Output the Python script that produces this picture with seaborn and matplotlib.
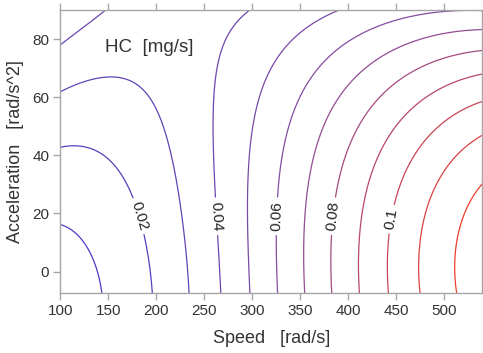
import numpy as np
import matplotlib
matplotlib.use("Agg")
import matplotlib.pyplot as plt
import seaborn as sns
from matplotlib.colors import LinearSegmentedColormap

# Points traced along each HC iso-line: level [mg/s], speed [rad/s], acceleration [rad/s^2]
contour_level = (
    [0.01] * 4
    + [0.02] * 7
    + [0.03] * 9
    + [0.04] * 14
    + [0.05] * 10
    + [0.06] * 10
    + [0.07] * 9
    + [0.08] * 8
    + [0.09] * 7
    + [0.10] * 6
    + [0.11] * 5
    + [0.12] * 4
)
contour_speed = [
    144.0, 129.9, 124.0, 100.0,
    100.0, 117.0, 157.0, 167.4, 181.0, 190.6, 196.2,
    100.0, 155.0, 195.2, 209.0, 218.4, 220.0, 225.4, 231.0, 234.0,
    267.4, 264.6, 263.0, 260.0, 259.4, 260.0, 263.5, 271.6, 291.7, 299.0,
    100.0, 104.9, 140.6, 149.0,
    297.6, 295.9, 295.9, 296.6, 300.0, 306.7, 319.0, 342.7, 379.0, 391.0,
    326.4, 325.4, 325.0, 330.6, 336.5, 348.6, 367.7, 404.0, 469.5, 505.0,
    354.9, 354.2, 355.6, 362.5, 372.3, 389.3, 415.6, 474.7, 540.0,
    383.3, 382.7, 384.0, 394.5, 409.4, 431.3, 471.9, 540.0,
    411.5, 411.1, 416.4, 427.8, 446.9, 479.9, 540.0,
    441.7, 441.7, 448.3, 463.2, 491.0, 540.0,
    475.4, 474.0, 483.3, 504.9, 540.0,
    513.5, 512.2, 525.7, 540.0,
]
contour_accel = [
    -7.5, 7.5, 8.6, 17.0,
    42.4, 43.4, 36.8, 31.6, 19.0, 7.5, -7.5,
    61.7, 66.8, 59.2, 48.9, 36.8, 31.6, 23.0, 7.5, -7.5,
    -7.5, 7.5, 19.0, 36.8, 48.9, 59.2, 69.6, 79.9, 88.2, 90.0,
    77.7, 79.9, 88.2, 90.0,
    -7.5, 7.5, 23.0, 36.8, 48.9, 59.2, 69.6, 79.9, 88.2, 90.0,
    -7.5, 7.5, 19.0, 36.8, 48.9, 59.2, 69.6, 79.9, 88.2, 89.5,
    -7.5, 7.5, 23.0, 36.8, 48.9, 59.2, 69.6, 79.9, 83.3,
    -7.5, 7.5, 19.0, 36.8, 48.9, 59.2, 69.6, 76.2,
    -7.5, 7.5, 23.0, 36.8, 48.9, 59.2, 67.8,
    -7.5, 7.5, 23.0, 36.8, 48.9, 58.6,
    -7.5, 7.5, 23.0, 36.8, 46.8,
    -7.5, 7.5, 23.0, 30.5,
]

plain_levels = [0.01, 0.03, 0.05, 0.07, 0.09, 0.11, 0.12]
labeled_levels = [0.02, 0.04, 0.06, 0.08, 0.10]
label_speed = [181, 263, 326, 386, 445]
label_accel = [19, 19, 19, 19, 18]
speed_ticks = [100, 150, 200, 250, 300, 350, 400, 450, 500]
accel_ticks = [0, 20, 40, 60, 80]
speed_range = (100, 540)
accel_range = (-7.5, 90)


def poly_basis(speed, accel, degree=4):
    s = (np.asarray(speed, float) - 320.0) / 220.0
    a = (np.asarray(accel, float) - 41.0) / 49.0
    cols = [s ** i * a ** j for i in range(degree + 1) for j in range(degree + 1 - i)]
    return np.stack(cols, axis=-1)


# Polynomial response surface HC(speed, acceleration) fitted through the traced points
coef, *_ = np.linalg.lstsq(poly_basis(contour_speed, contour_accel),
                           np.asarray(contour_level, float), rcond=None)
grid_s, grid_a = np.meshgrid(np.linspace(*speed_range, 400), np.linspace(*accel_range, 400))
hc = poly_basis(grid_s, grid_a) @ coef

sns.set_theme(style="ticks")
plt.rcParams["font.family"] = ["Liberation Sans", "DejaVu Sans"]

fig = plt.figure(figsize=(4.83, 3.53), dpi=100)
ax = fig.add_axes([0.1248, 0.1691, 0.8738, 0.8026])

cmap = LinearSegmentedColormap.from_list("hc", ["#4a3cc4", "#8a4f9e", "#ec3e2c"])
ax.contour(grid_s, grid_a, hc, levels=plain_levels, cmap=cmap,
           vmin=0.01, vmax=0.12, linewidths=0.9)
cs_lab = ax.contour(grid_s, grid_a, hc, levels=labeled_levels, cmap=cmap,
                    vmin=0.01, vmax=0.12, linewidths=0.9)
ax.clabel(cs_lab, manual=list(zip(label_speed, label_accel)),
          fmt="%g", fontsize=11, colors="#222222", inline_spacing=4)

ax.set_xlim(*speed_range)
ax.set_ylim(*accel_range)
ax.set_xticks(speed_ticks)
ax.set_yticks(accel_ticks)
for side in ["left", "right", "top", "bottom"]:
    ax.spines[side].set_visible(True)
    ax.spines[side].set_color("#a6a6a6")
    ax.spines[side].set_linewidth(1.0)
ax.tick_params(axis="both", direction="out", length=5, width=1, color="#a6a6a6",
               labelsize=11, labelcolor="#333333", pad=3)
ax.tick_params(axis="x", top=True)

ax.set_xlabel("Speed   [rad/s]", fontsize=13, color="#333333", labelpad=8)
ax.set_ylabel("Acceleration   [rad/s^2]", fontsize=13, color="#333333", labelpad=6)
ax.text(0.106, 0.869, "HC  [mg/s]", transform=ax.transAxes, fontsize=13.5,
        color="#333333", ha="left", va="center")

fig.savefig("out.png", dpi=100)
